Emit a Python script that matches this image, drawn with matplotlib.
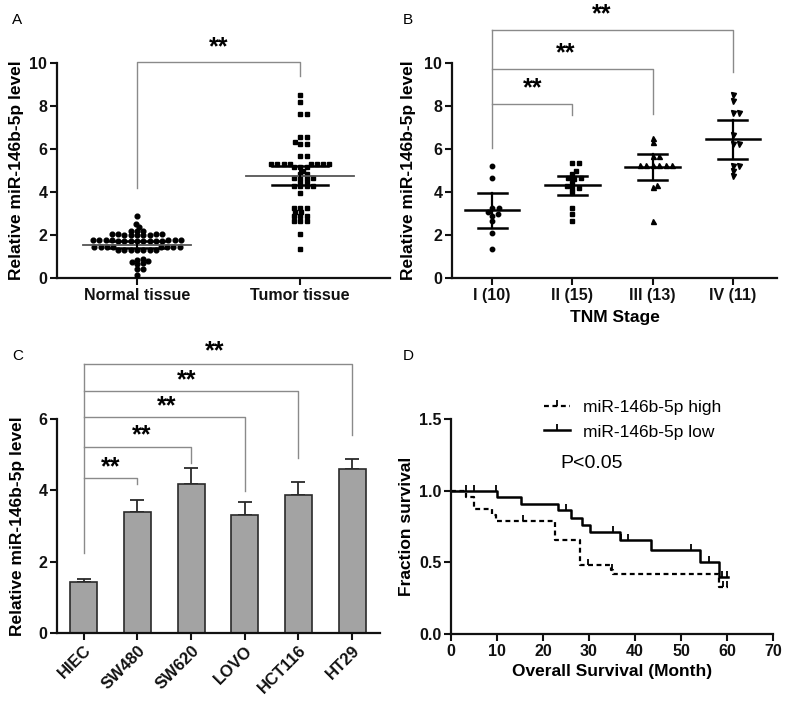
import numpy as np
import matplotlib
matplotlib.use('Agg')
import matplotlib.pyplot as plt
from matplotlib.lines import Line2D
from matplotlib.path import Path

plt.rcParams['font.family'] = ['Liberation Sans', 'DejaVu Sans']

# ---------------- data ----------------
a_groups = ['Normal tissue', 'Tumor tissue']
a_normal = [2.87, 2.53, 2.37, 2.2, 2.2, 2.2,
            2.05, 2.05, 2.05, 2.05, 2.0, 2.0, 2.0, 2.0, 2.0,
            1.77, 1.77, 1.77, 1.77, 1.77, 1.77, 1.77,
            1.72, 1.72, 1.72, 1.72, 1.72, 1.72, 1.72, 1.72,
            1.44, 1.44, 1.44, 1.44, 1.44, 1.44, 1.44, 1.44,
            1.32, 1.32, 1.32, 1.32, 1.32, 1.32, 1.32,
            0.9, 0.85, 0.8, 0.75, 0.7, 0.65, 0.42, 0.42, 0.15]
a_tumor = [8.49, 8.19, 7.63, 7.63, 6.56, 6.56, 6.34, 6.25, 6.25, 5.67, 5.67,
           5.3, 5.3, 5.3, 5.3, 5.3, 5.3, 5.3, 5.3, 5.16, 5.16, 5.16, 5.0,
           4.84, 4.84, 4.65, 4.65, 4.65, 4.65, 4.45, 4.45, 4.26, 4.26, 4.26, 4.26,
           3.95, 3.26, 3.26, 3.26, 3.05, 3.05, 2.87, 2.87, 2.87, 2.64, 2.64, 2.64,
           2.06, 1.35]
a_mean = [1.55, 4.76]
a_err = [0.17, 0.44]

b_groups = ['I (10)', 'II (15)', 'III (13)', 'IV (11)']
b_I = [5.19, 4.65, 3.26, 3.26, 3.05, 2.98, 2.9, 2.67, 2.07, 1.35]
b_II = [5.35, 5.35, 5.0, 4.85, 4.65, 4.65, 4.6, 4.42, 4.3, 4.2, 4.2, 3.98, 3.26, 2.98, 2.67]
b_III = [6.51, 6.31, 5.69, 5.69, 5.27, 5.27, 5.27, 5.27, 5.27, 5.27, 4.34, 4.21, 2.67]
b_IV = [8.53, 8.22, 7.67, 7.67, 6.67, 6.25, 6.25, 5.22, 5.22, 4.96, 4.76]
b_mean = [3.14, 4.31, 5.17, 6.46]
b_err = [0.80, 0.44, 0.60, 0.91]

c_cells = ['HIEC', 'SW480', 'SW620', 'LOVO', 'HCT116', 'HT29']
c_mean = [1.42, 3.39, 4.17, 3.31, 3.87, 4.59]
c_err = [0.10, 0.34, 0.47, 0.36, 0.36, 0.28]

d_high_t = [0, 3.2, 4.9, 8.9, 9.8, 22.6, 28.0, 34.7, 35.2, 58.3, 60.2]
d_high_s = [1.0, 0.958, 0.875, 0.833, 0.79, 0.656, 0.48, 0.447, 0.419, 0.326, 0.326]
d_high_cens = [15.7, 29.8, 34.9, 59.2, 60.0]
d_low_t = [0, 9.9, 15.2, 23.2, 26.1, 28.4, 30.2, 36.7, 43.4, 54.1, 58.3, 60.2]
d_low_s = [1.0, 0.958, 0.907, 0.865, 0.807, 0.76, 0.71, 0.656, 0.586, 0.5, 0.396, 0.396]
d_low_cens = [3.2, 4.9, 9.8, 25.0, 35.2, 36.9, 38.5, 52.2, 56.1, 59.0, 60.1]

# ---------------- helpers ----------------
W, H = 790, 707
fig = plt.figure(figsize=(W / 100, H / 100), dpi=100)


def axes_px(l, r, t, b):
    return fig.add_axes([l / W, 1 - b / H, (r - l) / W, (b - t) / H])


def style(ax):
    for s in ['top', 'right']:
        ax.spines[s].set_visible(False)
    for s in ['left', 'bottom']:
        ax.spines[s].set_linewidth(1.6)
        ax.spines[s].set_color('#111111')
    ax.tick_params(width=1.5, length=5, direction='out', labelsize=11.5, colors='#111111', pad=2)
    for lab in ax.get_xticklabels() + ax.get_yticklabels():
        lab.set_fontweight('bold')


def swarm(ax, x0, vals, d_px, ystretch=1.6):
    pts = ax.transData.transform([(x0, v) for v in vals])
    ys = pts[:, 1] * ystretch
    order = np.argsort(ys)
    placed = []
    offs = np.zeros(len(vals))
    for i in order:
        y = ys[i]
        cands = [0.0]
        for (px, py) in placed:
            dy = y - py
            if abs(dy) < d_px:
                dx = np.sqrt(d_px ** 2 - dy ** 2)
                cands += [px + dx, px - dx]
        cands = sorted(cands, key=lambda c: (abs(c), -c))
        for c in cands:
            if all((c - px) ** 2 + (y - py) ** 2 >= d_px ** 2 - 1e-6 for (px, py) in placed):
                offs[i] = c
                placed.append((c, y))
                break
    ppu = ax.transData.transform((1, 0))[0] - ax.transData.transform((0, 0))[0]
    return x0 + offs / ppu


BR = '#8a8a8a'


def bracket(ax, x1, x2, ytop, yleft, yright):
    ax.plot([x1, x1, x2, x2], [yleft, ytop, ytop, yright], color=BR, lw=1.0, clip_on=False)


def stars(ax, x, y):
    ax.text(x, y, '**', ha='center', va='center', fontsize=18, fontweight='bold', clip_on=False)


# ---------------- Panel A ----------------
axA = axes_px(57, 390, 63, 278)
axA.set_xlim(-0.49, 1.55)
axA.set_ylim(0, 10)
axA.set_xticks(range(len(a_groups)))
axA.set_xticklabels(a_groups)
axA.set_yticks([0, 2, 4, 6, 8, 10])
style(axA)
axA.set_ylabel('Relative miR-146b-5p level', fontsize=12.5, fontweight='bold')
axA.yaxis.set_label_coords(-0.1, 0.5)
for i, (vals, mk) in enumerate([(a_normal, 'o'), (a_tumor, 's')]):
    xs = swarm(axA, i, vals, 6.3)
    axA.plot(xs, vals, ls='none', marker=mk, ms=3.4, color='black', zorder=3)
    m, e = a_mean[i], a_err[i]
    axA.plot([i - 0.33, i + 0.33], [m, m], color='#555555', lw=1.3, zorder=4)
    axA.plot([i - 0.17, i + 0.17], [m + e, m + e], color='black', lw=1.8, zorder=4)
    axA.plot([i - 0.17, i + 0.17], [m - e, m - e], color='black', lw=1.8, zorder=4)
    axA.plot([i, i], [m - e, m + e], color='black', lw=1.5, zorder=4)
bracket(axA, 0, 1, 10.05, 4.2, 9.4)
stars(axA, 0.5, 10.75)

# ---------------- Panel B ----------------
axB = axes_px(452, 777, 63, 278)
axB.set_xlim(-0.5, 3.55)
axB.set_ylim(0, 10)
axB.set_xticks(range(len(b_groups)))
axB.set_xticklabels(b_groups)
axB.set_yticks([0, 2, 4, 6, 8, 10])
style(axB)
axB.set_ylabel('Relative miR-146b-5p level', fontsize=12.5, fontweight='bold')
axB.yaxis.set_label_coords(-0.11, 0.5)
axB.set_xlabel('TNM Stage', fontsize=12.5, fontweight='bold')
axB.xaxis.set_label_coords(0.5, -0.15)
for i, (vals, mk, ms) in enumerate([(b_I, 'o', 3.2), (b_II, 's', 3.4), (b_III, '^', 3.6), (b_IV, 'v', 3.6)]):
    xs = swarm(axB, i, vals, 6.5)
    axB.plot(xs, vals, ls='none', marker=mk, ms=ms, color='black', zorder=3)
    m, e = b_mean[i], b_err[i]
    axB.plot([i - 0.34, i + 0.34], [m, m], color='black', lw=1.8, zorder=4)
    axB.plot([i - 0.18, i + 0.18], [m + e, m + e], color='black', lw=1.8, zorder=4)
    axB.plot([i - 0.18, i + 0.18], [m - e, m - e], color='black', lw=1.8, zorder=4)
    axB.plot([i, i], [m - e, m + e], color='black', lw=1.6, zorder=4)
axB.plot([0, 0], [6.05, 11.52], color=BR, lw=1.0, clip_on=False)
for (x2, ytop, yr, sx, sy) in [(1, 8.11, 7.6, 0.51, 8.8), (2, 9.72, 7.64, 0.91, 10.45), (3, 11.52, 9.57, 1.37, 12.28)]:
    axB.plot([0, x2, x2], [ytop, ytop, yr], color=BR, lw=1.0, clip_on=False)
    stars(axB, sx, sy)

# ---------------- Panel C ----------------
axC = axes_px(57, 380, 419, 633)
xc = np.arange(len(c_cells))
axC.bar(xc, c_mean, width=0.5, color='#a3a3a3', edgecolor='#2a2a2a', lw=1.2, zorder=2)
axC.errorbar(xc, c_mean, yerr=[np.zeros(len(c_err)), c_err], fmt='none', ecolor='#2a2a2a',
             elinewidth=1.3, capsize=5, capthick=1.3, zorder=1)
axC.set_xlim(-0.5, 5.52)
axC.set_ylim(0, 6)
axC.set_xticks(xc)
axC.set_xticklabels(c_cells, rotation=45, ha='right', va='top', rotation_mode='anchor')
axC.set_yticks([0, 2, 4, 6])
style(axC)
for lab in axC.get_xticklabels():
    lab.set_fontsize(12)
axC.set_ylabel('Relative miR-146b-5p level', fontsize=12.5, fontweight='bold')
axC.yaxis.set_label_coords(-0.1, 0.5)
axC.plot([0, 0], [2.24, 7.54], color=BR, lw=1.0, clip_on=False)
c_tops = [4.34, 5.21, 6.05, 6.79, 7.54]
c_right = [4.18, 4.76, 3.97, 4.9, 5.55]
c_star = [(0.5, 4.65), (1.08, 5.55), (1.54, 6.36), (1.92, 7.09), (2.43, 7.9)]
for k in range(5):
    axC.plot([0, k + 1, k + 1], [c_tops[k], c_tops[k], c_right[k]], color=BR, lw=1.0, clip_on=False)
    stars(axC, *c_star[k])

# ---------------- Panel D ----------------
axD = axes_px(451, 773, 419, 634)
axD.set_xlim(0, 70)
axD.set_ylim(0, 1.5)
tick_marker = Path([(0, 0), (0, 1)], [Path.MOVETO, Path.LINETO])
axD.plot(d_high_t, d_high_s, drawstyle='steps-post', color='black', lw=1.6, ls=(0, (2.2, 1.6)))
axD.plot(d_low_t, d_low_s, drawstyle='steps-post', color='black', lw=1.8)


def surv_at(ts, ss, t):
    idx = np.searchsorted(ts, t, side='right') - 1
    return np.array(ss)[idx]


axD.plot(d_high_cens, surv_at(d_high_t, d_high_s, d_high_cens), ls='none', marker=tick_marker,
         ms=9, mew=1.3, color='black')
axD.plot(d_low_cens, surv_at(d_low_t, d_low_s, d_low_cens), ls='none', marker=tick_marker,
         ms=9, mew=1.3, color='black')
axD.set_xticks(range(0, 71, 10))
axD.set_yticks([0.0, 0.5, 1.0, 1.5])
axD.set_yticklabels(['0.0', '0.5', '1.0', '1.5'])
style(axD)
axD.set_ylabel('Fraction survival', fontsize=12.5, fontweight='bold')
axD.yaxis.set_label_coords(-0.115, 0.5)
axD.set_xlabel('Overall Survival (Month)', fontsize=12.5, fontweight='bold')
axD.xaxis.set_label_coords(0.5, -0.14)
h1 = Line2D([], [], color='black', lw=1.6, ls=(0, (2.2, 1.6)), marker=tick_marker, ms=9, mew=1.3)
h2 = Line2D([], [], color='black', lw=1.8, marker=tick_marker, ms=9, mew=1.3)
axD.legend([h1, h2], ['miR-146b-5p high', 'miR-146b-5p low'], loc='upper left',
           bbox_to_anchor=(0.29, 1.09), frameon=False, fontsize=12.5, handlelength=1.5,
           handletextpad=0.75, labelspacing=0.55, borderpad=0, borderaxespad=0, numpoints=1)
axD.text(23.8, 1.19, 'P<0.05', fontsize=14, ha='left', va='center')

# panel letters
for (x, y, s) in [(12, 20, 'A'), (403, 20, 'B'), (12, 356, 'C'), (403, 356, 'D')]:
    fig.text(x / W, 1 - y / H, s, fontsize=11, ha='left', va='center')

fig.savefig('out.png', dpi=100)
